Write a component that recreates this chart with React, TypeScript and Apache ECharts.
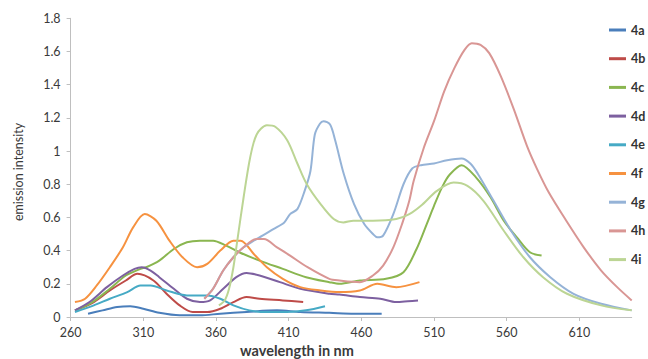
import React, { useEffect, useRef } from "react";
import * as echarts from "echarts";

const seriesNames = ["4a", "4b", "4c", "4d", "4e", "4f", "4g", "4h", "4i"];
const seriesColors = ["#4A7EBB", "#BE4B48", "#8AB650", "#7D60A0", "#46AAC5", "#F69240", "#95B3D7", "#D99694", "#BCD594"];

const xTicks = [260, 310, 360, 410, 460, 510, 560, 610];
const yTickLabels = ["0", "0.2", "0.4", "0.6", "0.8", "1", "1.2", "1.4", "1.6", "1.8"];

const s4a = [[272,0.02],[282,0.04],[292,0.06],[301,0.065],[310,0.05],[321,0.025],[335,0.01],[349,0.01],[363,0.02],[381,0.03],[402,0.04],[418,0.03],[438,0.025],[455,0.02],[474,0.02]];
const s4b = [[263,0.04],[276,0.09],[287,0.16],[298,0.22],[306,0.26],[317,0.22],[326,0.14],[335,0.07],[344,0.03],[354,0.03],[363,0.05],[372,0.09],[381,0.12],[390,0.11],[406,0.10],[420,0.09]];
const s4c = [[263,0.04],[275,0.09],[287,0.17],[298,0.25],[308,0.29],[312,0.30],[321,0.34],[331,0.41],[340,0.45],[349,0.46],[358,0.46],[367,0.43],[376,0.39],[390,0.34],[406,0.29],[422,0.24],[438,0.21],[445,0.20],[459,0.22],[477,0.23],[489,0.27],[498,0.41],[505,0.56],[510,0.67],[516,0.79],[521,0.86],[529,0.915],[539,0.84],[549,0.72],[558,0.58],[567,0.48],[576,0.39],[584,0.37]];
const s4d = [[263,0.04],[273,0.09],[285,0.18],[296,0.25],[304,0.29],[309,0.30],[315,0.28],[321,0.24],[331,0.17],[340,0.11],[349,0.09],[356,0.10],[365,0.17],[374,0.24],[381,0.265],[390,0.25],[404,0.21],[418,0.17],[438,0.14],[445,0.135],[459,0.12],[473,0.11],[484,0.09],[492,0.095],[499,0.10]];
const s4e = [[263,0.03],[276,0.07],[287,0.11],[299,0.15],[308,0.19],[315,0.19],[326,0.16],[340,0.13],[354,0.13],[363,0.11],[372,0.07],[383,0.04],[395,0.03],[409,0.03],[422,0.04],[435,0.065]];
const s4f = [[263,0.09],[270,0.11],[278,0.19],[287,0.30],[296,0.42],[303,0.54],[311,0.62],[319,0.58],[328,0.46],[337,0.36],[347,0.30],[354,0.32],[363,0.40],[372,0.46],[377,0.46],[386,0.38],[395,0.30],[406,0.23],[418,0.18],[432,0.16],[445,0.15],[459,0.16],[471,0.20],[484,0.18],[500,0.21]];
const s4g = [[352,0.11],[358,0.17],[365,0.28],[372,0.36],[379,0.42],[386,0.46],[392,0.49],[399.5,0.53],[407,0.57],[411,0.62],[416,0.65],[421,0.76],[425,0.88],[428,1.10],[431.5,1.165],[434,1.18],[438.5,1.16],[442,1.065],[448,0.86],[455,0.68],[462,0.56],[468,0.50],[471,0.48],[475,0.49],[482,0.62],[489,0.80],[495,0.895],[501,0.915],[510,0.925],[519,0.945],[529,0.955],[535,0.925],[540,0.865],[551,0.70],[563,0.52],[576,0.36],[590,0.24],[606,0.14],[625,0.08],[646,0.04]];
const s4h = [[352,0.11],[358,0.17],[365,0.28],[372,0.36],[379,0.42],[388,0.47],[393,0.47],[402,0.42],[411,0.37],[423,0.30],[438,0.23],[445,0.22],[459,0.21],[468,0.25],[475,0.31],[482,0.42],[488,0.56],[493,0.70],[496,0.82],[503,1.02],[510,1.18],[517,1.36],[524,1.50],[531,1.61],[536,1.65],[542,1.64],[548,1.59],[556,1.45],[565,1.25],[574,1.03],[581,0.89],[589,0.75],[601,0.58],[613,0.42],[625,0.28],[636,0.18],[646,0.10]];
const s4i = [[362,0.07],[366,0.10],[369,0.17],[372,0.30],[375,0.48],[379,0.72],[383.5,0.96],[388,1.10],[395,1.155],[401,1.145],[409,1.065],[416,0.925],[422.5,0.80],[432,0.68],[441,0.59],[447.6,0.57],[454.5,0.58],[468,0.58],[484,0.59],[493,0.62],[501,0.67],[512,0.76],[523.5,0.81],[533,0.79],[544,0.70],[558,0.52],[571.5,0.36],[585,0.24],[601.5,0.14],[625,0.07],[646,0.04]];

const seriesData = [s4a, s4b, s4c, s4d, s4e, s4f, s4g, s4h, s4i];

const FONT = "Lato, 'Open Sans', sans-serif";

export default function App() {
  const ref = useRef<HTMLDivElement>(null);
  useEffect(() => {
    if (!ref.current) return;
    const chart = echarts.init(ref.current, null, { renderer: "svg" });
    chart.setOption({
      animation: false,
      backgroundColor: "#ffffff",
      grid: { left: 70.6, right: 16.3, top: 18.3, bottom: 42 },
      legend: {
        orient: "vertical",
        left: 609,
        top: 23,
        padding: 0,
        itemWidth: 17,
        itemHeight: 3,
        itemGap: 14.7,
        icon: "rect",
        data: seriesNames,
        textStyle: { fontFamily: FONT, fontSize: 12.5, fontWeight: "bold", color: "#333333", lineHeight: 14 },
      },
      xAxis: {
        type: "value",
        min: 260,
        max: 646,
        axisLine: { show: true, lineStyle: { color: "#BFBFBF", width: 1 } },
        axisTick: { show: true, length: 4, customValues: xTicks, lineStyle: { color: "#BFBFBF" } },
        axisLabel: { customValues: xTicks, color: "#3a3a3a", fontSize: 12.5, fontFamily: FONT, margin: 9 },
        splitLine: { show: false },
      },
      yAxis: {
        type: "value",
        min: 0,
        max: 1.8,
        interval: 0.2,
        axisLine: { show: true, lineStyle: { color: "#BFBFBF", width: 1 } },
        axisTick: { show: true, length: 4, lineStyle: { color: "#BFBFBF" } },
        axisLabel: {
          color: "#3a3a3a",
          fontSize: 12.5,
          fontFamily: FONT,
          margin: 10,
          formatter: (v: number) => yTickLabels[Math.round(v / 0.2)] ?? "",
        },
        splitLine: { show: false },
      },
      graphic: [
        {
          type: "text",
          x: 18,
          y: 172,
          rotation: Math.PI / 2,
          style: { text: "emission intensity", fontFamily: FONT, fontSize: 12.5, fill: "#3a3a3a", align: "center", verticalAlign: "middle" },
        },
        {
          type: "text",
          x: 297,
          y: 350,
          style: { text: "wavelength in nm", fontFamily: FONT, fontSize: 14.5, fontWeight: "bold", fill: "#3a3a3a", align: "center", verticalAlign: "middle" },
        },
      ],
      series: seriesNames.map((name, i) => ({
        name,
        type: "line",
        data: seriesData[i],
        showSymbol: false,
        smooth: 0.3,
        color: seriesColors[i],
        lineStyle: { width: 2, color: seriesColors[i] },
      })),
    });
    return () => chart.dispose();
  }, []);
  return <div ref={ref} style={{ position: "absolute", left: 0, top: 0, width: 648, height: 359 }} />;
}
